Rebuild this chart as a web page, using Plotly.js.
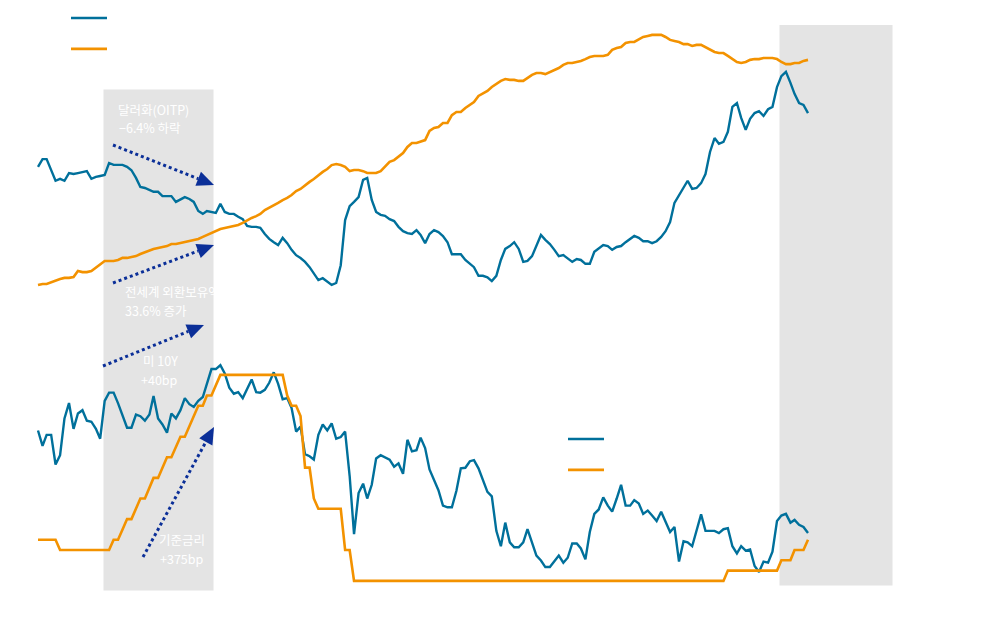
<!DOCTYPE html>
<html>
<head>
<meta charset="utf-8">
<script src="https://cdn.plot.ly/plotly-3.0.1.min.js"></script>
<style>html,body{margin:0;padding:0;background:#fff;}#chart{width:1000px;height:620px;}</style>
</head>
<body>
<div id="chart"></div>
<script>
// ---------- data (monthly, Jan 2003 - Jun 2017) ----------
const startYear = 2003, startMonth = 1, monthCount = 174;

// 달러화 (OITP) index
const dollarIndex = [
  121.7,123.3,123.3,121.0,118.8,119.2,118.8,120.4,120.2,120.4,120.6,120.8,
  119.2,119.6,119.8,120.0,122.5,122.1,122.1,122.1,121.7,121.0,119.4,117.5,
  117.3,116.9,116.5,116.5,115.6,115.6,115.6,114.4,115.0,115.4,115.0,114.4,
  112.5,111.9,112.5,112.3,112.1,114.0,112.3,111.9,111.9,111.3,110.8,109.4,
  109.2,109.2,109.0,107.7,106.7,106.0,105.4,106.9,105.8,104.4,103.3,102.7,
  101.9,100.8,99.6,98.1,98.5,97.7,97.1,97.5,101.2,110.6,113.5,114.4,
  115.4,119.0,119.4,114.8,112.3,111.7,111.5,110.8,110.4,109.2,108.3,107.9,
  107.7,108.5,107.5,105.8,107.7,108.5,108.1,107.3,106.0,103.5,103.5,103.5,
  102.3,101.5,100.8,99.0,99.0,98.7,97.9,99.0,102.3,104.6,105.2,106.0,
  104.6,101.9,102.1,103.1,105.4,107.5,106.5,105.6,104.4,103.1,103.3,102.7,
  101.9,102.5,102.3,101.5,101.5,104.0,104.6,105.4,105.2,104.4,105.0,105.2,
  106.0,106.7,107.3,106.9,106.2,106.2,105.8,106.2,107.1,108.3,110.2,114.2,
  115.8,117.1,118.8,117.1,117.3,118.3,120.2,124.8,127.7,126.5,126.9,129.0,
  134.2,135.0,131.9,129.4,131.7,132.9,133.3,132.3,133.7,134.2,138.3,140.6,
  141.5,139.2,136.9,135.0,134.6,132.9
];

// 전세계 외환보유액 (USD trillion)
const fxReserves = [
  2.50,2.54,2.54,2.61,2.65,2.73,2.77,2.77,2.80,3.03,2.99,2.99,
  3.03,3.15,3.26,3.41,3.41,3.41,3.45,3.53,3.53,3.56,3.60,3.68,
  3.75,3.79,3.87,3.91,3.94,3.98,4.06,4.06,4.10,4.13,4.17,4.21,
  4.25,4.33,4.40,4.48,4.55,4.63,4.67,4.71,4.74,4.78,4.86,4.97,
  5.05,5.12,5.20,5.35,5.43,5.54,5.62,5.73,5.81,5.92,6.07,6.15,
  6.30,6.42,6.53,6.68,6.80,6.91,7.06,7.10,7.06,6.99,6.83,6.87,
  6.87,6.83,6.76,6.76,6.76,6.83,7.02,7.18,7.25,7.40,7.52,7.75,
  7.90,7.90,7.94,8.01,8.36,8.47,8.51,8.66,8.66,8.96,9.08,9.08,
  9.23,9.34,9.46,9.69,9.80,9.88,10.03,10.14,10.26,10.33,10.30,10.30,
  10.26,10.26,10.37,10.49,10.56,10.56,10.52,10.60,10.68,10.75,10.87,10.94,
  10.94,10.98,11.02,11.09,11.17,11.21,11.21,11.21,11.25,11.44,11.51,11.55,
  11.70,11.74,11.74,11.85,11.93,11.97,12.01,12.01,12.01,11.93,11.82,11.78,
  11.74,11.66,11.66,11.59,11.63,11.63,11.55,11.47,11.36,11.32,11.32,11.21,
  11.09,10.98,10.94,10.98,11.06,11.09,11.09,11.13,11.13,11.13,11.09,10.98,
  10.90,10.90,10.94,10.94,11.02,11.06
];

// 미 10Y 국채금리 (%)
const us10y = [
  3.99,3.71,3.91,3.91,3.37,3.54,4.21,4.49,4.02,4.30,4.36,4.17,
  4.15,4.02,3.84,4.53,4.68,4.68,4.49,4.25,4.04,4.04,4.28,4.25,
  4.17,4.28,4.62,4.21,4.10,3.95,4.30,4.21,4.36,4.58,4.47,4.42,
  4.53,4.60,4.86,5.11,5.11,5.18,5.03,4.77,4.66,4.69,4.58,4.75,
  4.92,4.69,4.68,4.73,4.86,5.05,4.84,4.56,4.58,4.40,3.97,4.06,
  3.56,3.52,3.46,3.91,4.10,3.99,4.12,3.84,3.87,3.97,3.16,2.10,
  2.85,3.02,2.75,3.00,3.48,3.54,3.50,3.46,3.33,3.39,3.20,3.82,
  3.61,3.63,3.86,3.67,3.28,3.09,2.90,2.62,2.59,2.59,2.89,3.30,
  3.31,3.43,3.45,3.30,3.07,2.87,2.79,2.16,1.88,2.31,1.95,1.86,
  1.86,1.95,2.19,1.93,1.71,1.62,1.50,1.50,1.60,1.71,1.58,1.67,
  1.93,1.93,1.84,1.64,2.14,2.47,2.55,2.77,2.62,2.51,2.75,3.00,
  2.62,2.62,2.72,2.66,2.47,2.53,2.44,2.34,2.51,2.33,2.14,2.23,
  1.60,1.97,1.95,1.88,2.18,2.46,2.16,2.16,2.16,2.12,2.19,2.21,
  1.88,1.75,1.88,1.80,1.82,1.52,1.41,1.60,1.58,1.78,2.34,2.44,
  2.47,2.31,2.36,2.27,2.23,2.12
];

// 기준금리 (%)
const policyRate = [
  1.25,1.25,1.25,1.25,1.25,1.00,1.00,1.00,1.00,1.00,1.00,1.00,
  1.00,1.00,1.00,1.00,1.00,1.25,1.25,1.50,1.75,1.75,2.00,2.25,
  2.25,2.50,2.75,2.75,3.00,3.25,3.25,3.50,3.75,3.75,4.00,4.25,
  4.50,4.50,4.75,4.75,5.00,5.25,5.25,5.25,5.25,5.25,5.25,5.25,
  5.25,5.25,5.25,5.25,5.25,5.25,5.25,5.25,4.75,4.50,4.50,4.25,
  3.00,3.00,2.25,2.00,2.00,2.00,2.00,2.00,2.00,1.00,1.00,0.25,
  0.25,0.25,0.25,0.25,0.25,0.25,0.25,0.25,0.25,0.25,0.25,0.25,
  0.25,0.25,0.25,0.25,0.25,0.25,0.25,0.25,0.25,0.25,0.25,0.25,
  0.25,0.25,0.25,0.25,0.25,0.25,0.25,0.25,0.25,0.25,0.25,0.25,
  0.25,0.25,0.25,0.25,0.25,0.25,0.25,0.25,0.25,0.25,0.25,0.25,
  0.25,0.25,0.25,0.25,0.25,0.25,0.25,0.25,0.25,0.25,0.25,0.25,
  0.25,0.25,0.25,0.25,0.25,0.25,0.25,0.25,0.25,0.25,0.25,0.25,
  0.25,0.25,0.25,0.25,0.25,0.25,0.25,0.25,0.25,0.25,0.25,0.50,
  0.50,0.50,0.50,0.50,0.50,0.50,0.50,0.50,0.50,0.50,0.50,0.75,
  0.75,0.75,1.00,1.00,1.00,1.25
];

const seriesNames = ['달러화(OITP)', '전세계 외환보유액', '미 10Y', '기준금리'];
const noteLines = [
  ['달러화(OITP)', '−6.4% 하락'],
  ['전세계 외환보유액', '33.6% 증가'],
  ['미 10Y', '+40bp'],
  ['기준금리', '+375bp']
];

// month labels
const months = [];
for (let k = 0; k < monthCount; k++) {
  const y = startYear + Math.floor((startMonth - 1 + k) / 12);
  const m = (startMonth - 1 + k) % 12 + 1;
  months.push(y + '-' + String(m).padStart(2, '0') + '-01');
}

// ---------- layout helpers ----------
const W = 1000, H = 620;
const BLUE = '#00709b', ORANGE = '#f39200', ARROW = '#0b2f98', FONT = 'Noto Sans CJK KR, Noto Sans, sans-serif';
const px = x => x / W, py = y => 1 - y / H;

const t0 = Date.UTC(2003, 0, 1), t1 = Date.UTC(2017, 5, 1);
const pxPerMs = (808 - 38) / (t1 - t0);
const xRange = [new Date(t0 - 38 / pxPerMs).toISOString(), new Date(t0 + (W - 38) / pxPerMs).toISOString()];

function arrow(x0, y0, x1, y1) {
  const dx = x1 - x0, dy = y1 - y0, L = Math.hypot(dx, dy);
  const ux = dx / L, uy = dy / L, hl = 17, hw = 7.5;
  const bx = x1 - ux * hl, by = y1 - uy * hl, nx = -uy, ny = ux;
  return [
    {type: 'line', xref: 'paper', yref: 'paper', x0: px(x0), y0: py(y0), x1: px(bx), y1: py(by),
     line: {color: ARROW, width: 3, dash: 'dot'}},
    {type: 'path', xref: 'paper', yref: 'paper', fillcolor: ARROW, line: {width: 0},
     path: 'M' + px(x1) + ',' + py(y1) + ' L' + px(bx + nx * hw) + ',' + py(by + ny * hw) +
           ' L' + px(bx - nx * hw) + ',' + py(by - ny * hw) + ' Z'}
  ];
}

const traces = [
  {x: months, y: dollarIndex, name: seriesNames[0], type: 'scatter', mode: 'lines',
   xaxis: 'x', yaxis: 'y', line: {color: BLUE, width: 2.4}, legend: 'legend', legendgroup: 'a'},
  {x: months, y: fxReserves, name: seriesNames[1], type: 'scatter', mode: 'lines',
   xaxis: 'x', yaxis: 'y2', line: {color: ORANGE, width: 2.6}, legend: 'legend', legendgroup: 'b'},
  {x: months, y: us10y, name: seriesNames[2], type: 'scatter', mode: 'lines',
   xaxis: 'x', yaxis: 'y3', line: {color: BLUE, width: 2.4}, legend: 'legend2', legendgroup: 'c'},
  {x: months, y: policyRate, name: seriesNames[3], type: 'scatter', mode: 'lines',
   xaxis: 'x', yaxis: 'y4', line: {color: ORANGE, width: 2.6}, legend: 'legend2', legendgroup: 'd'}
];

const topDomain = [py(300), py(25)], botDomain = [py(590), py(355)];
const hidden = {visible: false, showgrid: false, zeroline: false, fixedrange: true};

const shapes = [
  {type: 'rect', xref: 'paper', yref: 'paper', layer: 'below', x0: px(103.5), x1: px(213.5), y0: py(590.5), y1: py(89.5),
   fillcolor: '#e4e4e4', line: {width: 0}},
  {type: 'rect', xref: 'paper', yref: 'paper', layer: 'below', x0: px(779.5), x1: px(892.5), y0: py(585.5), y1: py(25),
   fillcolor: '#e4e4e4', line: {width: 0}}
].concat(arrow(113, 145, 214, 185), arrow(113, 283, 214, 245), arrow(103, 366, 204, 325), arrow(143, 557, 214, 427));

const noteFont = {family: FONT, size: 12.5, color: '#ffffff'};
function note(text, x, y, anchor) {
  return {xref: 'paper', yref: 'paper', x: px(x), y: py(y), xanchor: anchor, yanchor: 'middle',
          showarrow: false, text: text, font: noteFont, borderpad: 0};
}
const annotations = [
  note(noteLines[0][0], 117, 109.5, 'left'), note(noteLines[0][1], 118, 128, 'left'),
  note(noteLines[1][0], 124, 291.5, 'left'), note(noteLines[1][1], 124, 310, 'left'),
  note(noteLines[2][0], 160, 360.5, 'center'), note(noteLines[2][1], 159.5, 379, 'center'),
  note(noteLines[3][0], 182, 539.5, 'center'), note(noteLines[3][1], 181.5, 558, 'center')
];

const legendBase = {bgcolor: 'rgba(0,0,0,0)', borderwidth: 0, font: {family: FONT, size: 13, color: '#ffffff'},
  traceorder: 'grouped', tracegroupgap: 11, orientation: 'v', xanchor: 'left', yanchor: 'top', itemwidth: 36};

const layout = {
  width: W, height: H,
  margin: {l: 0, r: 0, t: 0, b: 0, pad: 0},
  paper_bgcolor: '#ffffff', plot_bgcolor: 'rgba(0,0,0,0)',
  font: {family: FONT},
  showlegend: true,
  xaxis: Object.assign({type: 'date', range: xRange, anchor: 'y'}, hidden),
  yaxis: Object.assign({domain: topDomain, range: [93.958, 151.25]}, hidden),
  yaxis2: Object.assign({domain: topDomain, range: [1.9297, 12.386], overlaying: 'y', anchor: 'x'}, hidden),
  yaxis3: Object.assign({domain: botDomain, range: [1.0819, 5.3663], anchor: 'x'}, hidden),
  yaxis4: Object.assign({domain: botDomain, range: [0.02913, 5.7330], overlaying: 'y3', anchor: 'x'}, hidden),
  legend: Object.assign({}, legendBase, {x: px(66), y: py(3)}),
  legend2: Object.assign({}, legendBase, {x: px(563), y: py(424)}),
  shapes: shapes,
  annotations: annotations,
  hovermode: false
};

Plotly.newPlot('chart', traces, layout, {displayModeBar: false, staticPlot: true});
</script>
</body>
</html>
